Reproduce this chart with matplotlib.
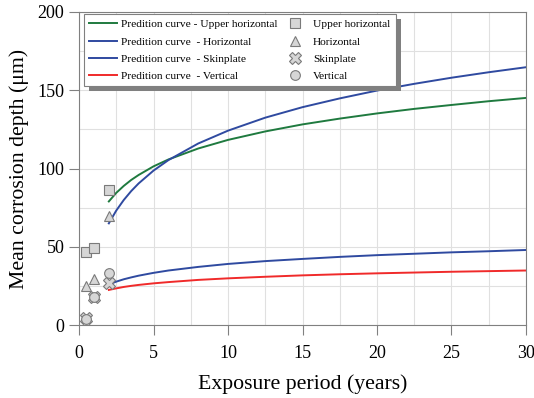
import matplotlib
matplotlib.use("Agg")
import matplotlib.pyplot as plt
from matplotlib.ticker import MultipleLocator
from matplotlib.patches import Rectangle

plt.rcParams['font.family'] = ['Liberation Serif', 'DejaVu Serif']

# measured data (years, um)
t_obs = [0.5, 1, 2]
upper_h = [47, 49.5, 86]
horiz = [25, 29.5, 69.5]
skin = [4.5, 18, 27]
vert = [4, 18, 33]

# prediction curves
t_pred = [2, 2.5, 3, 3.5, 4, 5, 6, 8, 10, 12.5, 15, 17.5, 20, 22.5, 25, 27.5, 30]
pred_upper_h = [79.0, 84.5, 88.9, 92.7, 95.9, 101.4, 105.8, 112.8, 118.3, 123.7,
                128.2, 131.9, 135.2, 138.1, 140.6, 143.0, 145.1]
pred_horiz = [65.0, 73.2, 79.9, 85.6, 90.5, 98.7, 105.4, 116.0, 124.2, 132.5,
              139.2, 144.8, 149.8, 154.1, 158.0, 161.5, 164.7]
pred_skin = [26.0, 27.8, 29.3, 30.5, 31.6, 33.4, 34.9, 37.2, 39.1, 40.9,
             42.3, 43.6, 44.7, 45.6, 46.5, 47.2, 48.0]
pred_vert = [22.5, 23.5, 24.4, 25.1, 25.7, 26.7, 27.5, 28.9, 29.9, 30.9,
             31.8, 32.5, 33.1, 33.6, 34.1, 34.5, 34.9]

fig = plt.figure(figsize=(5.34, 3.98), dpi=100)
ax = fig.add_axes([0.148, 0.183, 0.837, 0.787])

green = '#1f7a3f'
blue = '#2f4aa0'
red = '#f02a2a'
fc = '#d6d6d6'
ec = '#7a7a7a'

l1, = ax.plot(t_pred, pred_upper_h, color=green, lw=1.4)
l2, = ax.plot(t_pred, pred_horiz, color=blue, lw=1.4)
l3, = ax.plot(t_pred, pred_skin, color=blue, lw=1.4)
l4, = ax.plot(t_pred, pred_vert, color=red, lw=1.4)

mk = dict(ls='none', mfc=fc, mec=ec, mew=0.8, ms=7)
m1, = ax.plot(t_obs, upper_h, marker='s', **mk)
m2, = ax.plot(t_obs, horiz, marker='^', **mk)
m3, = ax.plot(t_obs, skin, marker='X', **dict(mk, ms=8))
m4, = ax.plot(t_obs, vert, marker='o', **mk)

ax.set_xlim(0, 30)
ax.set_ylim(0, 200)
ax.xaxis.set_major_locator(MultipleLocator(5))
ax.yaxis.set_major_locator(MultipleLocator(50))
ax.xaxis.set_minor_locator(MultipleLocator(2.5))
ax.yaxis.set_minor_locator(MultipleLocator(25))
ax.grid(True, which='both', color='#e0e0e0', lw=0.8)
ax.set_axisbelow(True)
for s in ax.spines.values():
    s.set_color('#808080')
ax.tick_params(which='major', direction='out', length=7, color='#808080',
               labelsize=13)
ax.tick_params(axis='x', pad=7)
ax.tick_params(which='minor', length=0)

ax.set_xlabel('Exposure period (years)', fontsize=15.7, labelpad=9)
ax.set_ylabel('Mean corrosion depth (μm)', fontsize=15.7, labelpad=6)

handles = [l1, l2, l3, l4, m1, m2, m3, m4]
labels = ['Predition curve - Upper horizontal', 'Predition curve  - Horizontal',
          'Predition curve  - Skinplate', 'Predition curve  - Vertical',
          'Upper horizontal', 'Horizontal', 'Skinplate', 'Vertical']
leg = ax.legend(handles, labels, ncol=2, loc='upper left',
                bbox_to_anchor=(0.01, 0.994), borderaxespad=0,
                fontsize=8.2, frameon=True,
                fancybox=False, edgecolor='#808080', framealpha=1,
                handlelength=2.4, columnspacing=0.3, labelspacing=0.62,
                borderpad=0.5, handletextpad=0.4)
leg.get_frame().set_linewidth(0.8)
leg.set_zorder(10)

# drop shadow behind the legend box
fig.canvas.draw()
bb = leg.get_window_extent().transformed(fig.transFigure.inverted())
dx, dy = 5 / 534, 5 / 398
ax.add_patch(Rectangle((bb.x0 + dx, bb.y0 - dy), bb.width, bb.height,
                       transform=fig.transFigure, facecolor='#808080',
                       edgecolor='none', zorder=9, clip_on=False))

fig.savefig('out.png', dpi=100)
